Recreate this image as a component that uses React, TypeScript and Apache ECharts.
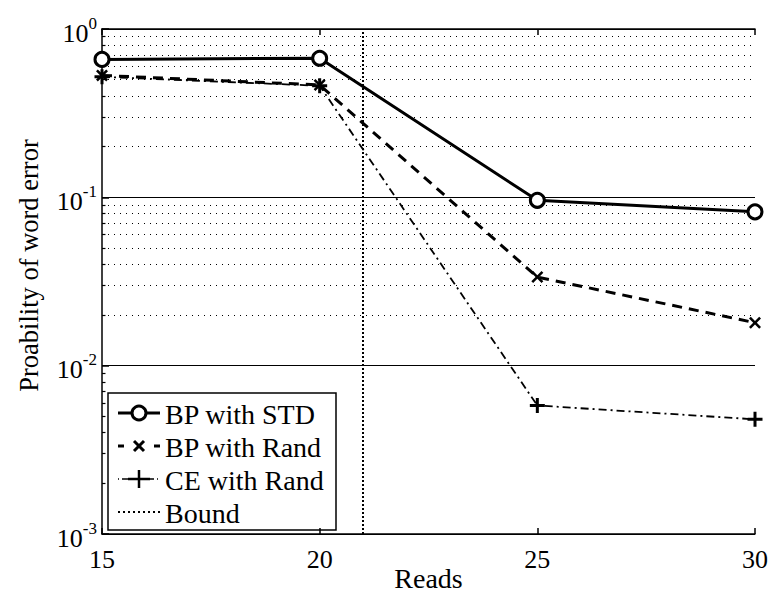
import React, { useEffect, useRef } from "react";
import * as echarts from "echarts";

const reads = [15, 20, 25, 30];
const bpStd = [0.66, 0.67, 0.096, 0.082];
const bpRand = [0.53, 0.465, 0.0336, 0.018];
const ceRand = [0.52, 0.46, 0.0058, 0.0048];
const boundReads = 21;
const xTicks = [15, 20, 25, 30];
const legendNames = ["BP with STD", "BP with Rand", "CE with Rand", "Bound"];

const FONT = '"Liberation Serif", "Times New Roman", serif';

const minorVals: number[] = [];
for (let e = -3; e <= -1; e++) {
  for (let k = 2; k <= 9; k++) minorVals.push(parseFloat((k * Math.pow(10, e)).toPrecision(3)));
}

const X_PATH = "path://M0,1.5 L1.5,0 L5,3.5 L8.5,0 L10,1.5 L6.5,5 L10,8.5 L8.5,10 L5,6.5 L1.5,10 L0,8.5 L3.5,5 Z";
const PLUS_PATH = "path://M4,0 H6 V4 H10 V6 H6 V10 H4 V6 H0 V4 H4 Z";

export default function App() {
  const ref = useRef<HTMLDivElement>(null);
  useEffect(() => {
    if (!ref.current) return;
    const chart = echarts.init(ref.current, null, { renderer: "svg" });
    const L = { x0: 118, x1: 160, xm: 139, tx: 165 };
    const rows = [413, 446, 479, 512];
    const legendGraphics: any[] = [
      { type: "rect", shape: { x: 108, y: 393, width: 228, height: 137 }, style: { fill: "#fff", stroke: "#000", lineWidth: 1.5 } },
      // row 1
      { type: "line", shape: { x1: L.x0, y1: rows[0], x2: L.x1, y2: rows[0] }, style: { stroke: "#000", lineWidth: 3 } },
      { type: "circle", shape: { cx: L.xm, cy: rows[0], r: 7 }, style: { fill: "#fff", stroke: "#000", lineWidth: 3 } },
      // row 2
      { type: "line", shape: { x1: L.x0, y1: rows[1], x2: L.x0 + 6, y2: rows[1] }, style: { stroke: "#000", lineWidth: 3 } },
      { type: "line", shape: { x1: L.x1 - 6, y1: rows[1], x2: L.x1, y2: rows[1] }, style: { stroke: "#000", lineWidth: 3 } },
      { type: "line", shape: { x1: L.xm - 5, y1: rows[1] - 5, x2: L.xm + 5, y2: rows[1] + 5 }, style: { stroke: "#000", lineWidth: 3 } },
      { type: "line", shape: { x1: L.xm - 5, y1: rows[1] + 5, x2: L.xm + 5, y2: rows[1] - 5 }, style: { stroke: "#000", lineWidth: 3 } },
      // row 3
      { type: "line", shape: { x1: L.x0, y1: rows[2], x2: L.x1, y2: rows[2] }, style: { stroke: "#000", lineWidth: 1.5, lineDash: [1, 3, 6, 3] } },
      { type: "line", shape: { x1: L.xm - 11, y1: rows[2], x2: L.xm + 11, y2: rows[2] }, style: { stroke: "#000", lineWidth: 2.5 } },
      { type: "line", shape: { x1: L.xm, y1: rows[2] - 9, x2: L.xm, y2: rows[2] + 9 }, style: { stroke: "#000", lineWidth: 2.5 } },
      // row 4
      { type: "line", shape: { x1: L.x0, y1: rows[3], x2: L.x1, y2: rows[3] }, style: { stroke: "#000", lineWidth: 2, lineDash: [2, 3] } },
    ];
    legendNames.forEach((n, i) => {
      legendGraphics.push({
        type: "text",
        style: { text: n, x: L.tx, y: rows[i] + 1, verticalAlign: "middle", fill: "#000", fontSize: 28, fontFamily: FONT },
      });
    });

    const option: any = {
      animation: false,
      backgroundColor: "#fff",
      grid: { left: 102, top: 29, width: 653, height: 505, containLabel: false, outerBoundsMode: "none" },
      xAxis: [
        {
          type: "value",
          min: 15,
          max: 30,
          interval: 5,
          name: "Reads",
          nameLocation: "middle",
          nameGap: 31,
          nameMoveOverlap: false,
          nameTextStyle: { fontSize: 28, lineHeight: 26, fontFamily: FONT, color: "#000" },
          axisLine: { show: true, lineStyle: { color: "#000", width: 1.5 } },
          axisTick: { show: true, inside: true, length: 6, lineStyle: { color: "#000", width: 1.5 } },
          axisLabel: {
            fontSize: 26,
            fontFamily: FONT,
            color: "#000",
            margin: 12,
            customValues: xTicks,
          },
          splitLine: { show: false },
        },
        {
          type: "value",
          position: "top",
          min: 15,
          max: 30,
          interval: 5,
          axisLine: { show: true, lineStyle: { color: "#000", width: 1.5 } },
          axisTick: { show: true, inside: true, length: 6, lineStyle: { color: "#000", width: 1.5 } },
          axisLabel: { show: false },
          splitLine: { show: false },
        },
      ],
      yAxis: {
        type: "log",
        logBase: 10,
        min: 0.001,
        max: 1,
        interval: 1,
        name: "Proability of word error",
        nameLocation: "middle",
        nameGap: 60,
        nameMoveOverlap: false,
        nameTextStyle: { fontSize: 26.5, fontFamily: FONT, color: "#000", padding: [0, 0, 0, 32] },
        axisLine: { show: true, lineStyle: { color: "#000", width: 1.5 } },
        axisTick: { show: true, inside: true, length: 7, lineStyle: { color: "#000", width: 1.5 } },
        axisLabel: {
          margin: 5,
          formatter: (v: number) => {
            const e = Math.round(Math.log10(v));
            return "{b|10}{s|" + (e < 0 ? "-" + Math.abs(e) : String(e)) + "}";
          },
          rich: {
            b: { fontSize: 26, fontFamily: FONT, color: "#000", padding: [8, 0, 0, 0] },
            s: { fontSize: 17, fontFamily: FONT, color: "#000", padding: [0, 0, 12, 0] },
          },
        },
        splitLine: { show: true, lineStyle: { color: "#000", width: 1, type: "solid" } },
      },
      series: [
        {
          name: "grid",
          type: "line",
          data: [],
          silent: true,
          markLine: {
            silent: true,
            symbol: "none",
            label: { show: false },
            lineStyle: { color: "#000", width: 1, type: [1, 5] },
            data: minorVals.map((v) => ({ yAxis: v })),
          },
        },
        {
          name: "minorTicks",
          type: "line",
          data: [],
          silent: true,
          markLine: {
            silent: true,
            symbol: "none",
            label: { show: false },
            lineStyle: { color: "#000", width: 1.2, type: "solid" },
            data: minorVals.map((v) => [{ coord: [15, v] }, { coord: [15.08, v] }]),
          },
        },
        {
          name: "Bound",
          type: "line",
          data: [],
          silent: true,
          markLine: {
            silent: true,
            symbol: "none",
            label: { show: false },
            lineStyle: { color: "#000", width: 2, type: [2, 2] },
            data: [{ xAxis: boundReads }],
          },
        },
        {
          name: "CE with Rand",
          type: "line",
          data: reads.map((r, i) => [r, ceRand[i]]),
          symbol: PLUS_PATH,
          symbolSize: 15,
          itemStyle: { color: "#000" },
          lineStyle: { color: "#000", width: 1.8, type: [8, 4, 2, 4] },
          z: 3,
        },
        {
          name: "BP with Rand",
          type: "line",
          data: reads.map((r, i) => [r, bpRand[i]]),
          symbol: X_PATH,
          symbolSize: 12,
          itemStyle: { color: "#000" },
          lineStyle: { color: "#000", width: 3, type: [10, 7] },
          z: 4,
        },
        {
          name: "BP with STD",
          type: "line",
          data: reads.map((r, i) => [r, bpStd[i]]),
          symbol: "circle",
          symbolSize: 14,
          itemStyle: { color: "#fff", borderColor: "#000", borderWidth: 3 },
          lineStyle: { color: "#000", width: 3 },
          z: 5,
        },
      ],
      graphic: legendGraphics,
    };
    chart.setOption(option);
    return () => chart.dispose();
  }, []);
  return <div ref={ref} style={{ width: 770, height: 595, position: "absolute", left: 0, top: 0 }} />;
}
